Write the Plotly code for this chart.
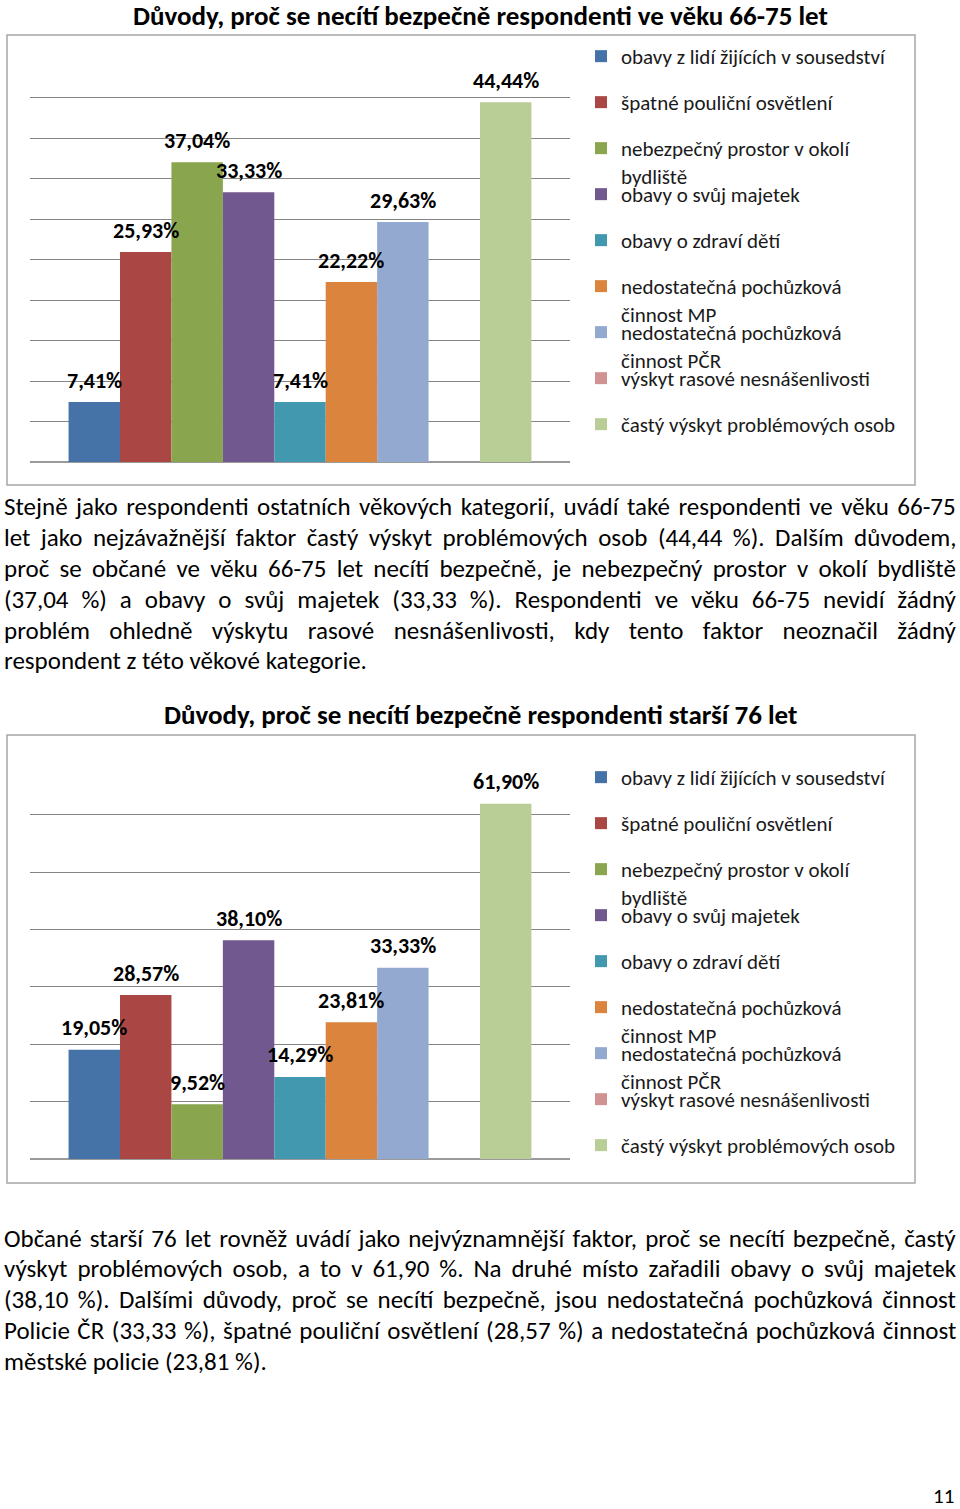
import plotly.graph_objects as go

W, H = 960, 1509

# ---------------- data ----------------
categories = [
    "obavy z lidí žijících v sousedství",
    "špatné pouliční osvětlení",
    "nebezpečný prostor v okolí<br>bydliště",
    "obavy o svůj majetek",
    "obavy o zdraví dětí",
    "nedostatečná pochůzková<br>činnost MP",
    "nedostatečná pochůzková<br>činnost PČR",
    "výskyt rasové nesnášenlivosti",
    "častý výskyt problémových osob",
]
values_66_75 = [7.41, 25.93, 37.04, 33.33, 7.41, 22.22, 29.63, 0.0, 44.44]
values_76 = [19.05, 28.57, 9.52, 38.10, 14.29, 23.81, 33.33, 0.0, 61.90]
colors = ["#4572A7", "#AA4643", "#89A54E", "#71588F", "#4198AF",
          "#DB843D", "#93A9CF", "#D19392", "#B9CD96"]

title_1 = "Důvody, proč se necítí bezpečně respondenti ve věku 66-75 let"
title_2 = "Důvody, proč se necítí bezpečně respondenti starší 76 let"

para_1 = [
    "Stejně jako respondenti ostatních věkových kategorií, uvádí také respondenti ve věku 66-75",
    "let jako nejzávažnější faktor častý výskyt problémových osob (44,44 %). Dalším důvodem,",
    "proč se občané ve věku 66-75 let necítí bezpečně, je nebezpečný prostor v okolí bydliště",
    "(37,04 %) a obavy o svůj majetek (33,33 %). Respondenti ve věku 66-75 nevidí žádný",
    "problém ohledně výskytu rasové nesnášenlivosti, kdy tento faktor neoznačil žádný",
    "respondent z této věkové kategorie.",
]
para_2 = [
    "Občané starší 76 let rovněž uvádí jako nejvýznamnější faktor, proč se necítí bezpečně, častý",
    "výskyt problémových osob, a to v 61,90 %. Na druhé místo zařadili obavy o svůj majetek",
    "(38,10 %). Dalšími důvody, proč se necítí bezpečně, jsou nedostatečná pochůzková činnost",
    "Policie ČR (33,33 %), špatné pouliční osvětlení (28,57 %) a nedostatečná pochůzková činnost",
    "městské policie (23,81 %).",
]
page_number = "11"

# styling: extra word spacing (px) per line to imitate justified text
word_spacing_1 = [2.8, 4.8, 4.6, 7.3, 13.7, 0]
word_spacing_2 = [2.5, 4.3, 3.7, 1.9, 0]

FONT = "Carlito, Calibri, Lato, 'Open Sans', sans-serif"


def px_x(x):
    return x / W


def px_y(y):
    return 1 - y / H


def fmt(v):
    return f"{v:.2f}".replace(".", ",") + "%"


fig = go.Figure()

charts = [
    dict(vals=values_66_75, xa="x", ya="y", top=57, bottom=462, ymax=50, dt=5,
         box=(7, 35, 915, 485), title=title_1, ty=15.5, leg_top=57),
    dict(vals=values_76, xa="x2", ya="y2", top=757, bottom=1159, ymax=70, dt=10,
         box=(7, 735, 915, 1183), title=title_2, ty=714, leg_top=778),
]

annotations = []
shapes = []
layout_extra = {}
LEG_STEP = 46

for c, ch in enumerate(charts):
    for i, (name, v, col) in enumerate(zip(categories, ch["vals"], colors)):
        idx = c * len(categories) + i
        lname = "legend" if idx == 0 else f"legend{idx + 1}"
        fig.add_trace(go.Bar(
            x=[i], y=[v], width=[1.0], name=name,
            marker=dict(color=col, line=dict(width=0)),
            xaxis=ch["xa"], yaxis=ch["ya"], legend=lname, showlegend=True,
            hoverinfo="skip",
        ))
        layout_extra[lname] = dict(
            x=px_x(581), y=px_y(ch["leg_top"] + i * LEG_STEP - 21),
            xanchor="left", yanchor="top", bgcolor="rgba(0,0,0,0)",
            font=dict(family=FONT, size=21, color="#1a1a1a"),
            valign="top", borderwidth=0, itemclick=False, itemdoubleclick=False,
        )
        if v > 0:
            annotations.append(dict(
                x=i, y=v, xref=ch["xa"], yref=ch["ya"], text=fmt(v),
                showarrow=False, yanchor="middle", yshift=22,
                font=dict(family=FONT, size=22, color="black", weight="bold"),
            ))
    # title
    annotations.append(dict(
        x=0.5, y=px_y(ch["ty"]), xref="paper", yref="paper", text=ch["title"],
        showarrow=False, xanchor="center", yanchor="middle",
        font=dict(family=FONT, size=27, color="black", weight="bold"),
    ))
    x0, y0, x1, y1 = ch["box"]
    shapes.append(dict(type="rect", xref="paper", yref="paper",
                       x0=px_x(x0), x1=px_x(x1), y0=px_y(y1), y1=px_y(y0),
                       line=dict(color="#A6A6A6", width=1.5), layer="below"))


def add_paragraph(lines, spacings, y_first, step=30.8):
    for j, (line, ws) in enumerate(zip(lines, spacings)):
        txt = f"<span style='word-spacing:{ws}px'>{line}</span>" if ws else line
        annotations.append(dict(x=px_x(2), y=px_y(y_first + j * step), xref="paper", yref="paper",
                                text=txt, showarrow=False, xanchor="left", yanchor="middle",
                                font=dict(family=FONT, size=25, color="black")))


add_paragraph(para_1, word_spacing_1, 507)
add_paragraph(para_2, word_spacing_2, 1238)

annotations.append(dict(x=px_x(956), y=px_y(1496), xref="paper", yref="paper",
                        text=page_number, showarrow=False, xanchor="right", yanchor="middle",
                        font=dict(family=FONT, size=21, color="black")))

xdom = [px_x(30), px_x(570)]
axis_common_x = dict(range=[-1.25, 9.25], showgrid=False, zeroline=False,
                     showticklabels=False, ticks="", fixedrange=True)


def yaxis_cfg(ch):
    return dict(domain=[px_y(ch["bottom"]), px_y(ch["top"])],
                range=[0, ch["ymax"] * 1.0005], dtick=ch["dt"], tick0=0,
                showgrid=True, gridcolor="#858585", gridwidth=1.2,
                zeroline=True, zerolinecolor="#9A9A9A", zerolinewidth=2,
                showticklabels=False, ticks="", showline=False, fixedrange=True)


fig.update_layout(
    width=W, height=H,
    margin=dict(l=0, r=0, t=0, b=0),
    paper_bgcolor="white", plot_bgcolor="white",
    barmode="overlay",
    xaxis=dict(domain=xdom, anchor="y", **axis_common_x),
    yaxis=dict(anchor="x", **yaxis_cfg(charts[0])),
    xaxis2=dict(domain=xdom, anchor="y2", **axis_common_x),
    yaxis2=dict(anchor="x2", **yaxis_cfg(charts[1])),
    annotations=annotations,
    shapes=shapes,
    font=dict(family=FONT, color="black"),
    **layout_extra,
)

fig.write_html("out.html", config={"displayModeBar": False},
               post_script="document.body.style.margin='0';")
